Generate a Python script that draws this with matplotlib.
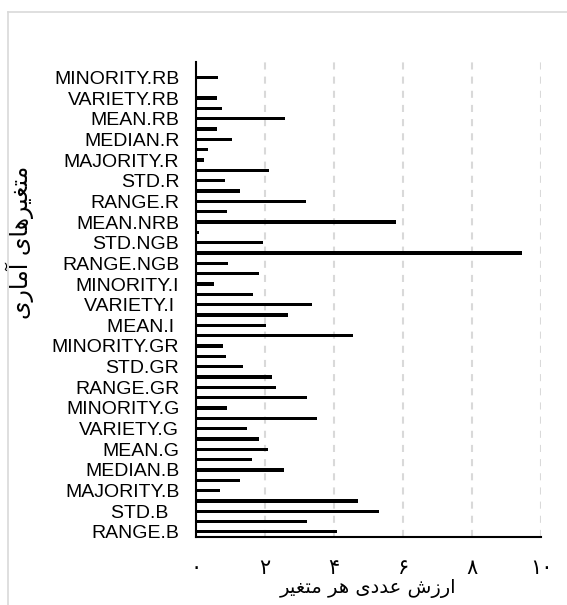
"""Horizontal bar chart of statistical variables (out.png)."""

import matplotlib.pyplot as plt
from matplotlib.lines import Line2D

plt.rcParams["font.family"] = ["Liberation Sans", "DejaVu Sans"]

GRID = "#d9d9d9"
FRAME = "#d9d9d9"

# category labels, bottom to top (every other category carries a label)
LABELS = [
    "RANGE.B", "STD.B  ", "MAJORITY.B", "MEDIAN.B", "MEAN.G", "VARIETY.G",
    "MINORITY.G", "RANGE.GR", "STD.GR", "MINORITY.GR", "MEAN.I ", "VARIETY.I ",
    "MINORITY.I", "RANGE.NGB", "STD.NGB", "MEAN.NRB", "RANGE.R", "STD.R",
    "MAJORITY.R", "MEDIAN.R", "MEAN.RB", "VARIETY.RB", "MINORITY.RB",
]

# one value per category, bottom to top
VALUES = [
    4.10, 3.22, 5.30, 4.70, 0.71, 1.28, 2.54, 1.62, 2.08, 1.84,
    1.47, 3.52, 0.89, 3.22, 2.32, 2.21, 1.35, 0.86, 0.79, 4.54,
    2.02, 2.66, 3.36, 1.64, 0.52, 1.83, 0.92, 9.45, 1.93, 0.09,
    5.79, 0.89, 3.18, 1.28, 0.84, 2.12, 0.22, 0.35, 1.03, 0.60,
    2.59, 0.76, 0.60, 0.00, 0.65, 0.00,
]

X_TICKS = [0, 2, 4, 6, 8, 10]
X_TICK_LABELS = ["\u06f0", "\u06f2", "\u06f4", "\u06f6", "\u06f8", "\u06f1\u06f0"]

# Persian titles, written in shaped presentation forms and visual order
X_TITLE = ("\uFEAE\uFEF4\uFED0\uFE98\uFEE3 \uFEAE\uFEEB "
           "\uFEEF\uFEA9\uFEAA\uFECB \uFEB5\uFEAF\uFEAD\uFE8D")
Y_TITLE = ("\uFEEF\uFEAD\uFE8E\uFEE3\uFE81 "
           "\uFEEF\uFE8E\uFEEB\uFEAE\uFEF4\uFED0\uFE98\uFEE3")

W, H = 567, 605


def main():
    fig = plt.figure(figsize=(W / 100, H / 100), dpi=100)
    ax = fig.add_axes([196 / W, 1 - 537 / H, 345 / W, 475 / H])

    ypos = list(range(len(VALUES)))
    ax.barh(ypos, VALUES, height=0.32, color="black")

    ax.set_xlim(0, 10)
    ax.set_ylim(-0.5, len(VALUES) - 0.5)

    ax.set_yticks(ypos[::2])
    ax.set_yticklabels(LABELS, fontsize=14)
    ax.set_xticks(X_TICKS)
    ax.set_xticklabels(X_TICK_LABELS, fontsize=15, family="DejaVu Sans")
    ax.tick_params(axis="y", length=0, pad=12)
    ax.tick_params(axis="x", length=0, pad=15)

    ax.set_axisbelow(True)
    ax.xaxis.grid(True, color=GRID, linewidth=1.5, linestyle=(0, (3.4, 3.4)))

    for side in ("top", "right"):
        ax.spines[side].set_visible(False)
    for side in ("left", "bottom"):
        ax.spines[side].set_linewidth(1.5)
        ax.spines[side].set_color("black")

    ax.set_xlabel(X_TITLE, fontsize=14, family="DejaVu Sans", va="center")
    ax.xaxis.set_label_coords(0.5, -0.108)
    ax.set_ylabel(Y_TITLE, fontsize=17, family="DejaVu Sans", va="center")
    ax.yaxis.set_label_coords(-0.51, 0.62)

    # chart-area border (top and left edges)
    fx, fy = 8 / W, 1 - 12 / H
    fig.add_artist(Line2D([fx, 1], [fy, fy], color=FRAME, lw=1.2,
                          transform=fig.transFigure))
    fig.add_artist(Line2D([fx, fx], [0, fy], color=FRAME, lw=1.2,
                          transform=fig.transFigure))

    fig.savefig("out.png", dpi=100, facecolor="white")
    plt.close(fig)


if __name__ == "__main__":
    main()
